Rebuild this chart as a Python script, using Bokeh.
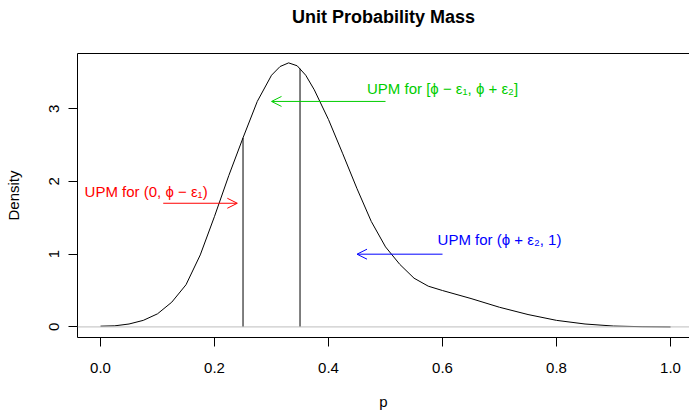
from bokeh.plotting import figure
from bokeh.models import (ColumnDataSource, Span, Arrow, OpenHead, LinearAxis,
                          FixedTicker, Range1d, PrintfTickFormatter)
from bokeh.core.properties import value
from bokeh.embed import file_html
from bokeh.resources import INLINE

# ---- data ----
p_grid = [0.0, 0.025, 0.05, 0.075, 0.1, 0.125, 0.15, 0.175, 0.2, 0.225, 0.25,
          0.275, 0.3, 0.315, 0.33, 0.345, 0.36, 0.375, 0.4, 0.425, 0.45, 0.475,
          0.5, 0.525, 0.55, 0.575, 0.6, 0.65, 0.7, 0.75, 0.8, 0.85, 0.9, 0.95, 1.0]
density = [0.01, 0.015, 0.04, 0.09, 0.18, 0.34, 0.58, 0.99, 1.52, 2.08, 2.6,
           3.1, 3.46, 3.58, 3.63, 3.59, 3.46, 3.26, 2.85, 2.38, 1.9, 1.45,
           1.1, 0.86, 0.67, 0.56, 0.5, 0.39, 0.27, 0.17, 0.09, 0.04, 0.012, 0.003, 0.0]

cut_p = [0.25, 0.35]
cut_d = [2.6, 3.55]
cut_base = [0.0, 0.0]
baseline = 0.0

x_ticks = [0.0, 0.2, 0.4, 0.6, 0.8, 1.0]
y_ticks = [0, 1, 2, 3]

label_text = ["UPM for (0, \u03d5 \u2212 \u03b5\u2081)",
              "UPM for [\u03d5 \u2212 \u03b5\u2081, \u03d5 + \u03b5\u2082]",
              "UPM for (\u03d5 + \u03b5\u2082, 1)"]
label_x = [0.08, 0.6, 0.7]
label_y = [1.86, 3.28, 1.2]
label_color = ["#FF0000", "#00CD00", "#0000FF"]

arrow_x0 = [0.11, 0.5, 0.6]
arrow_x1 = [0.24, 0.3, 0.45]
arrow_y = [1.7, 3.1, 1.0]

FONT = "Liberation Sans"

p = figure(width=689, height=412, output_backend="svg", toolbar_location=None,
           x_range=Range1d(-0.0404, 1.0333), y_range=Range1d(-0.1456, 3.759),
           min_border_left=77, min_border_right=0, min_border_top=0,
           min_border_bottom=72, title="Unit Probability Mass")
p.xgrid.visible = False
p.ygrid.visible = False
p.outline_line_color = None
p.background_fill_color = "white"
p.border_fill_color = "white"

p.title.text_font = FONT
p.title.text_font_size = "18px"
p.title.text_font_style = "bold"
p.title.text_color = "black"
p.title.align = "center"
p.title.vertical_align = "bottom"
p.title.standoff = 9

for ax in (p.xaxis[0], p.yaxis[0]):
    ax.axis_line_color = "black"
    ax.major_tick_line_color = "black"
    ax.major_tick_out = 9
    ax.major_tick_in = 0
    ax.minor_tick_line_color = None
    ax.major_label_text_font = FONT
    ax.major_label_text_font_size = "15px"
    ax.major_label_text_color = "black"
    ax.axis_label_text_font = FONT
    ax.axis_label_text_font_size = "15px"
    ax.axis_label_text_font_style = "normal"
    ax.axis_label_text_color = "black"

p.xaxis[0].ticker = FixedTicker(ticks=x_ticks)
p.xaxis[0].formatter = PrintfTickFormatter(format="%.1f")
p.xaxis[0].axis_label = "p"
p.xaxis[0].major_label_standoff = 16
p.xaxis[0].axis_label_standoff = 17

p.yaxis[0].ticker = FixedTicker(ticks=y_ticks)
p.yaxis[0].axis_label = "Density"
p.yaxis[0].major_label_orientation = "vertical"
p.yaxis[0].major_label_standoff = 9
p.yaxis[0].axis_label_standoff = 25

# top edge of the box; a blank axis label keeps the gap below the title
top = LinearAxis(ticker=FixedTicker(ticks=[]), major_tick_out=0, major_tick_in=0,
                 minor_tick_out=0, minor_tick_in=0, major_label_standoff=0,
                 axis_label=" ", axis_label_standoff=2,
                 axis_label_text_font=FONT, axis_label_text_font_size="15px",
                 axis_line_color="black")
p.add_layout(top, "above")

p.add_layout(Span(location=baseline, dimension="width", line_color="#BEBEBE", line_width=1))

p.line(p_grid, density, line_color="black", line_width=1)
p.segment(x0=cut_p, y0=cut_base, x1=cut_p, y1=cut_d, line_color="black", line_width=1)

for x0, x1, y, c in zip(arrow_x0, arrow_x1, arrow_y, label_color):
    p.add_layout(Arrow(end=OpenHead(size=10, line_color=c, line_width=1),
                       x_start=x0, y_start=y, x_end=x1, y_end=y,
                       line_color=c, line_width=1))

src = ColumnDataSource(dict(x=label_x, y=label_y, text=label_text, color=label_color))
p.text(x="x", y="y", text="text", text_color="color", source=src,
       text_font=value(FONT), text_font_size="15px",
       text_align="center", text_baseline="middle")

open("out.html", "w").write(file_html(p, INLINE))
